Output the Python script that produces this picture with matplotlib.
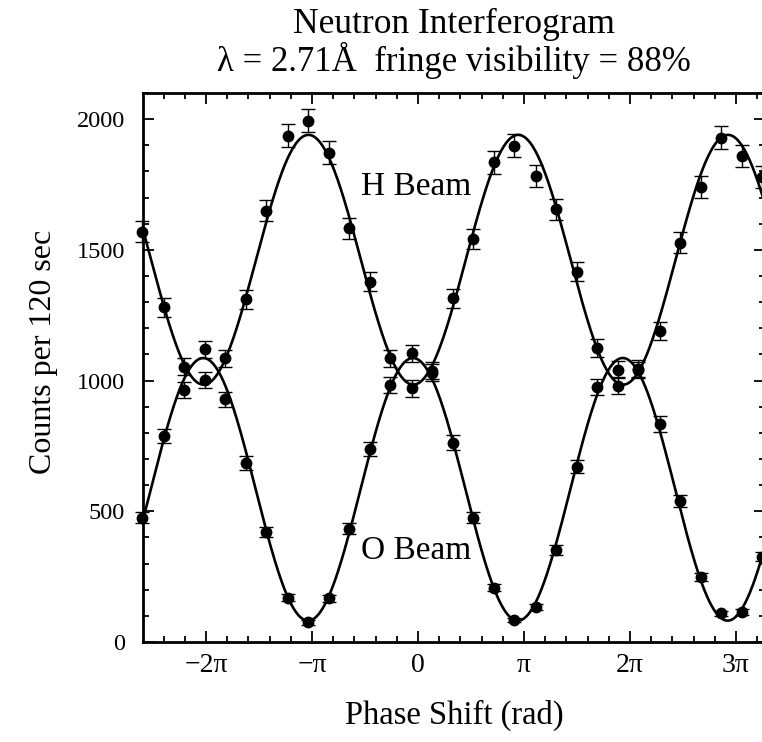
import numpy as np
import matplotlib
matplotlib.use("Agg")
import matplotlib.pyplot as plt
from matplotlib.ticker import MultipleLocator, FixedLocator, FixedFormatter

plt.rcParams["font.family"] = ["Liberation Serif", "DejaVu Serif"]

# phase shift of each measurement, in units of pi
phase_pi = [-2.60, -2.40, -2.21, -2.01, -1.82, -1.62, -1.43, -1.23, -1.04, -0.84,
            -0.65, -0.45, -0.26, -0.06, 0.13, 0.33, 0.52, 0.72, 0.91, 1.11,
            1.30, 1.50, 1.69, 1.89, 2.08, 2.28, 2.47, 2.67, 2.86, 3.06, 3.25]

h_counts = [1570, 1280, 1053, 1002, 1085, 1311, 1650, 1936, 1994, 1872,
            1583, 1378, 1085, 970, 1038, 1315, 1542, 1835, 1899, 1783,
            1655, 1417, 1126, 981, 1045, 1190, 1528, 1742, 1929, 1860, 1778]
h_err = [40, 36, 32, 32, 33, 36, 41, 44, 45, 43,
         40, 37, 33, 31, 32, 36, 39, 43, 44, 42,
         41, 38, 34, 31, 32, 34, 39, 42, 44, 43, 42]

o_counts = [476, 788, 964, 1120, 928, 684, 420, 170, 75, 167,
            434, 737, 983, 1104, 1030, 762, 476, 208, 84, 135,
            352, 671, 974, 1041, 1040, 834, 541, 248, 110, 114, 326]
o_err = [22, 28, 31, 33, 30, 26, 20, 13, 9, 13,
         21, 27, 31, 33, 32, 28, 22, 14, 9, 12,
         19, 26, 31, 32, 32, 29, 23, 16, 10, 11, 18]

# fringe period of the fitted curves, in units of pi
fringe_period_pi = 1.979

tick_pi = [-2, -1, 0, 1, 2, 3]
tick_labels = ["\u22122\u03c0", "\u2212\u03c0", "0", "\u03c0", "2\u03c0", "3\u03c0"]


def cosine_fit(x, y, w, xs):
    # least squares fit of y = a + b cos(wx) + c sin(wx)
    m = np.column_stack([np.ones_like(x), np.cos(w * x), np.sin(w * x)])
    coef, *_ = np.linalg.lstsq(m, y, rcond=None)
    ms = np.column_stack([np.ones_like(xs), np.cos(w * xs), np.sin(w * xs)])
    return ms @ coef


x = np.array(phase_pi) * np.pi
w = 2.0 / fringe_period_pi
xs = np.linspace(-2.7 * np.pi, 3.4 * np.pi, 800)

fig = plt.figure(figsize=(7.62, 7.42), dpi=100)
ax = fig.add_axes([143 / 762, 100 / 742, 622 / 762, 549 / 742])

for counts, err in [(h_counts, h_err), (o_counts, o_err)]:
    counts = np.array(counts, dtype=float)
    ax.plot(xs, cosine_fit(x, counts, w, xs), color="black", lw=1.9)
    ax.errorbar(x, counts, yerr=err, fmt="o", color="black", ms=7.5,
                capsize=5, elinewidth=1.0, capthick=1.0, clip_on=False)

ax.set_xlim(-2.594 * np.pi, 3.274 * np.pi)
ax.set_ylim(0, 2100)

ax.xaxis.set_major_locator(FixedLocator(np.array(tick_pi) * np.pi))
ax.xaxis.set_major_formatter(FixedFormatter(tick_labels))
ax.xaxis.set_minor_locator(MultipleLocator(np.pi / 5))
ax.yaxis.set_major_locator(MultipleLocator(500))
ax.yaxis.set_minor_locator(MultipleLocator(100))

ax.tick_params(which="both", direction="in", top=True, right=True, width=1.3)
ax.tick_params(which="major", length=8)
ax.tick_params(which="minor", length=4)
ax.tick_params(axis="x", labelsize=20, pad=8)
ax.tick_params(axis="y", labelsize=17.5, pad=13)
for s in ax.spines.values():
    s.set_linewidth(2.0)

ax.text(-0.02 * np.pi, 1741, "H Beam", fontsize=24, ha="center", va="center")
ax.text(-0.02 * np.pi, 348, "O Beam", fontsize=24, ha="center", va="center")

cx = (143 + 765) / 2 / 762
fig.text(cx, 1 - 24 / 742, "Neutron Interferogram", fontsize=25.5,
         ha="center", va="center")
fig.text(cx, 1 - 60 / 742, "\u03bb = 2.71\u00c5  fringe visibility = 88%",
         fontsize=25, ha="center", va="center")
fig.text(cx, 1 - 715 / 742, "Phase Shift (rad)", fontsize=23.5,
         ha="center", va="center")
fig.text(44 / 762, 1 - 352 / 742, "Counts per 120 sec", fontsize=23,
         rotation=90, ha="center", va="center")

fig.savefig("out.png", dpi=100)
